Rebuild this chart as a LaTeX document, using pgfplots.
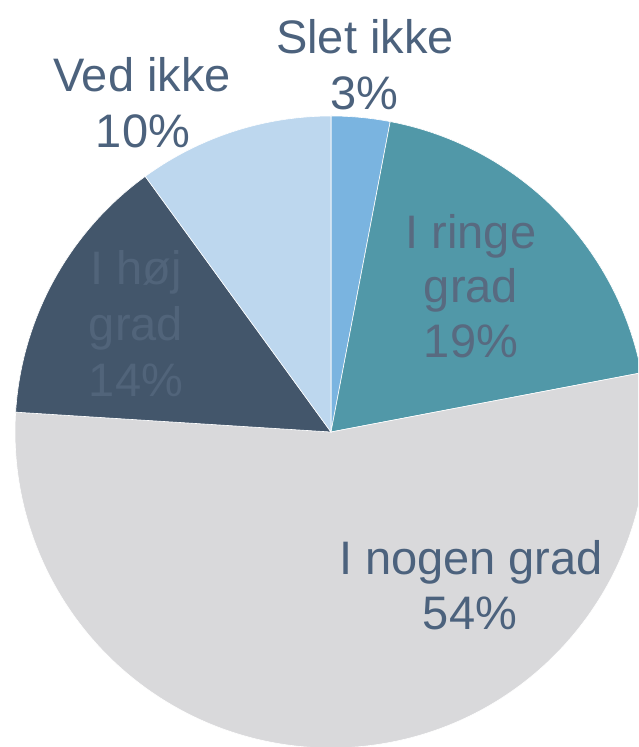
\documentclass[border=0pt]{standalone}
\usepackage{pgfplots}
\pgfplotsset{compat=1.18}
\usepackage{pgfplotstable}
\usepackage{fontspec}
\setmainfont{Liberation Sans}
\definecolor{sletc}{HTML}{7AB4E0}
\definecolor{ringec}{HTML}{5198A8}
\definecolor{nogenc}{HTML}{D9D9DB}
\definecolor{hojc}{HTML}{43566B}
\definecolor{vedc}{HTML}{BDD7EE}
\definecolor{labelc}{HTML}{4C627D}
\definecolor{ringetxt}{HTML}{586A80}
\definecolor{hojtxt}{HTML}{51647A}
% share of each slice, clockwise from the top
\pgfplotstableread{
name   pct
Slet   3
Ringe  19
Nogen  54
Hoj    14
Ved    10
}\piedata
\pgfplotstablegetelem{0}{pct}\of\piedata \global\let\pA\pgfplotsretval
\pgfplotstablegetelem{1}{pct}\of\piedata \global\let\pB\pgfplotsretval
\pgfplotstablegetelem{2}{pct}\of\piedata \global\let\pC\pgfplotsretval
\pgfplotstablegetelem{3}{pct}\of\piedata \global\let\pD\pgfplotsretval
\pgfplotstablegetelem{4}{pct}\of\piedata \global\let\pE\pgfplotsretval
\newcommand{\slice}[3]{% start share, share, colour
  \fill[#3, draw=white, line width=0.6pt] (axis cs:331,315) -- +({90-3.6*(#1)}:316pt)
    arc[start angle={90-3.6*(#1)}, delta angle={-3.6*(#2)}, radius=316pt] -- cycle;}
\begin{document}
\begin{tikzpicture}
\begin{axis}[
  at={(0pt,0pt)}, anchor=south west,
  scale only axis, width=638pt, height=747pt,
  xmin=0, xmax=638, ymin=0, ymax=747,
  hide axis, clip=true, clip mode=global,
  font=\fontsize{47}{54}\selectfont,
]
\slice{0}{\pA}{sletc}
\slice{\pA}{\pB}{ringec}
\slice{\pA+\pB}{\pC}{nogenc}
\slice{\pA+\pB+\pC}{\pD}{hojc}
\slice{\pA+\pB+\pC+\pD}{\pE}{vedc}
% labels (baselines)
\node[anchor=base, text=labelc] at (axis cs:365,693) {Slet ikke};
\node[anchor=base, text=labelc] at (axis cs:364,637) {3\%};
\node[anchor=base, text=labelc] at (axis cs:142,655) {Ved ikke};
\node[anchor=base, text=labelc] at (axis cs:143,599) {10\%};
\node[anchor=base, text=ringetxt] at (axis cs:471,498) {I ringe};
\node[anchor=base, text=ringetxt] at (axis cs:471,444) {grad};
\node[anchor=base, text=ringetxt] at (axis cs:471,389) {19\%};
\node[anchor=base, text=hojtxt] at (axis cs:136,462) {I høj};
\node[anchor=base, text=hojtxt] at (axis cs:136,406) {grad};
\node[anchor=base, text=hojtxt] at (axis cs:136,350) {14\%};
\node[anchor=base, text=labelc] at (axis cs:471,172) {I nogen grad};
\node[anchor=base, text=labelc] at (axis cs:470,117) {54\%};
\node[anchor=base, text=labelc, font=\fontsize{47}{54}\selectfont\bfseries] at (axis cs:211,757) {gg};
\end{axis}
\pgfresetboundingbox
\path[use as bounding box] (0pt,0pt) rectangle (638pt,747pt);
\end{tikzpicture}
\end{document}
